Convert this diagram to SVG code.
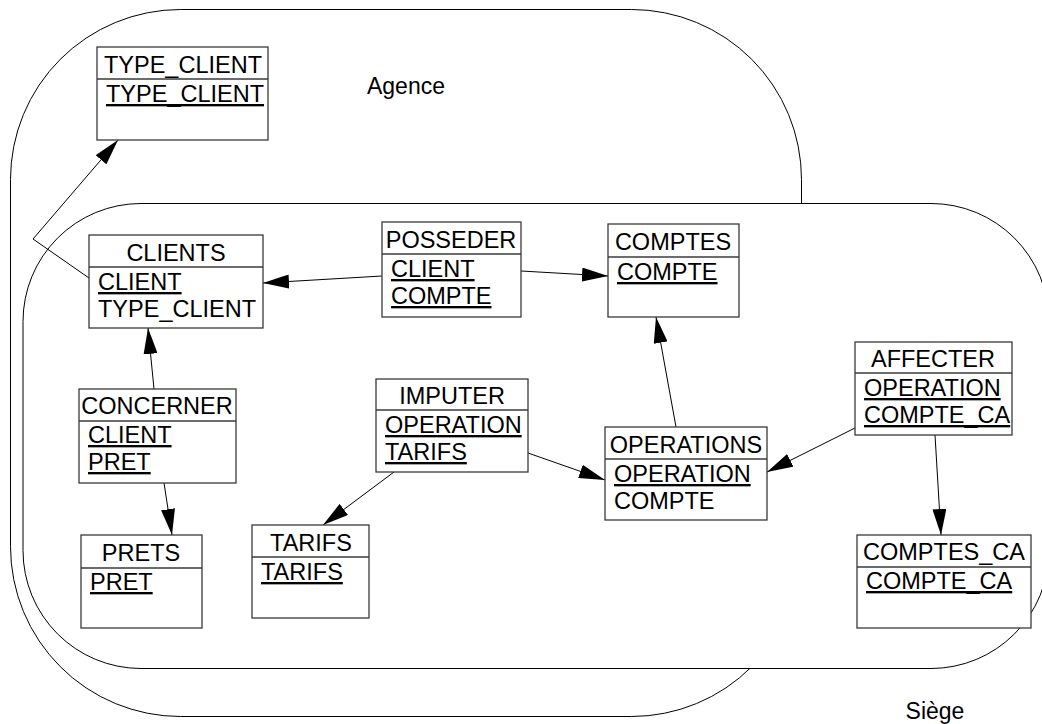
<svg xmlns="http://www.w3.org/2000/svg" width="1042" height="724" viewBox="0 0 1042 724">
  <style>
    text { font-family: "Liberation Sans", Arial, sans-serif; font-size: 23.5px; fill: #000; }
    .hd { text-anchor: middle; }
    .pk { text-decoration: underline; text-decoration-thickness: 1px; text-underline-offset: 2px; }
    .box { fill: #fff; stroke: #3a3a3a; stroke-width: 1.3; }
    .sep { stroke: #3a3a3a; stroke-width: 1.3; }
    .zone { fill: #fff; stroke: #000; stroke-width: 1; }
    .link { fill: none; stroke: #000; stroke-width: 1; marker-end: url(#arrow); }
  </style>
  <defs>
    <marker id="arrow" viewBox="0 0 26 14" refX="26" refY="7" markerWidth="26" markerHeight="14" markerUnits="userSpaceOnUse" orient="auto">
      <path d="M0,0 L26,7 L0,14 z" fill="#000"/>
    </marker>
  </defs>

  <!-- domains -->
  <g id="agence">
    <rect class="zone" x="10.5" y="9.5" width="791" height="707" rx="170" ry="170"/>
    <text x="406" y="94" text-anchor="middle" style="font-size:23px">Agence</text>
  </g>
  <g id="siege">
    <rect class="zone" x="23" y="203.5" width="1026" height="465" rx="118" ry="118"/>
    <text x="935" y="719" text-anchor="middle" style="font-size:23px">Siège</text>
  </g>

  <!-- connectors -->
  <g id="connectors">
    <polyline class="link" points="89,278 33,239 118,140"/>
    <line class="link" x1="382" y1="276" x2="263" y2="283"/>
    <line class="link" x1="521" y1="271" x2="608" y2="276"/>
    <line class="link" x1="676" y1="427" x2="656" y2="317"/>
    <line class="link" x1="528" y1="453" x2="605" y2="480"/>
    <line class="link" x1="394" y1="472" x2="323" y2="525"/>
    <line class="link" x1="855" y1="428" x2="767" y2="472"/>
    <line class="link" x1="935" y1="435" x2="941" y2="535"/>
    <line class="link" x1="154" y1="389" x2="148" y2="328"/>
    <line class="link" x1="164" y1="483" x2="172" y2="535"/>
  </g>

  <!-- entities -->
  <g id="TYPE_CLIENT">
    <rect class="box" x="97" y="47" width="171" height="93"/>
    <line class="sep" x1="97" y1="79" x2="268" y2="79"/>
    <text class="hd" x="183" y="73">TYPE_CLIENT</text>
    <text class="pk" x="106" y="102">TYPE_CLIENT</text>
  </g>
  <g id="CLIENTS">
    <rect class="box" x="89" y="235" width="174" height="93"/>
    <line class="sep" x1="89" y1="267" x2="263" y2="267"/>
    <text class="hd" x="176" y="261">CLIENTS</text>
    <text class="pk" x="98" y="290">CLIENT</text>
    <text x="98" y="317">TYPE_CLIENT</text>
  </g>
  <g id="POSSEDER">
    <rect class="box" x="382" y="222" width="139" height="95"/>
    <line class="sep" x1="382" y1="254" x2="521" y2="254"/>
    <text class="hd" x="451" y="248">POSSEDER</text>
    <text class="pk" x="391" y="277">CLIENT</text>
    <text class="pk" x="391" y="304">COMPTE</text>
  </g>
  <g id="COMPTES">
    <rect class="box" x="608" y="224" width="131" height="93"/>
    <line class="sep" x1="608" y1="257" x2="739" y2="257"/>
    <text class="hd" x="673" y="250">COMPTES</text>
    <text class="pk" x="617" y="280">COMPTE</text>
  </g>
  <g id="CONCERNER">
    <rect class="box" x="79" y="389" width="157" height="94"/>
    <line class="sep" x1="79" y1="421" x2="236" y2="421"/>
    <text class="hd" x="157" y="414">CONCERNER</text>
    <text class="pk" x="88" y="443">CLIENT</text>
    <text class="pk" x="88" y="470">PRET</text>
  </g>
  <g id="IMPUTER">
    <rect class="box" x="376" y="379" width="152" height="93"/>
    <line class="sep" x1="376" y1="410" x2="528" y2="410"/>
    <text class="hd" x="452" y="404">IMPUTER</text>
    <text class="pk" x="385" y="433">OPERATION</text>
    <text class="pk" x="385" y="460">TARIFS</text>
  </g>
  <g id="OPERATIONS">
    <rect class="box" x="605" y="427" width="162" height="93"/>
    <line class="sep" x1="605" y1="459" x2="767" y2="459"/>
    <text class="hd" x="686" y="453">OPERATIONS</text>
    <text class="pk" x="614" y="482">OPERATION</text>
    <text x="614" y="509">COMPTE</text>
  </g>
  <g id="AFFECTER">
    <rect class="box" x="855" y="342" width="157" height="93"/>
    <line class="sep" x1="855" y1="373" x2="1012" y2="373"/>
    <text class="hd" x="933" y="367">AFFECTER</text>
    <text class="pk" x="864" y="396">OPERATION</text>
    <text class="pk" x="864" y="423">COMPTE_CA</text>
  </g>
  <g id="PRETS">
    <rect class="box" x="81" y="535" width="121" height="93"/>
    <line class="sep" x1="81" y1="568" x2="202" y2="568"/>
    <text class="hd" x="141" y="561">PRETS</text>
    <text class="pk" x="90" y="590">PRET</text>
  </g>
  <g id="TARIFS">
    <rect class="box" x="252" y="525" width="117" height="93"/>
    <line class="sep" x1="252" y1="557" x2="369" y2="557"/>
    <text class="hd" x="311" y="551">TARIFS</text>
    <text class="pk" x="261" y="580">TARIFS</text>
  </g>
  <g id="COMPTES_CA">
    <rect class="box" x="857" y="535" width="174" height="93"/>
    <line class="sep" x1="857" y1="567" x2="1031" y2="567"/>
    <text class="hd" x="944" y="560">COMPTES_CA</text>
    <text class="pk" x="866" y="589">COMPTE_CA</text>
  </g>
</svg>
